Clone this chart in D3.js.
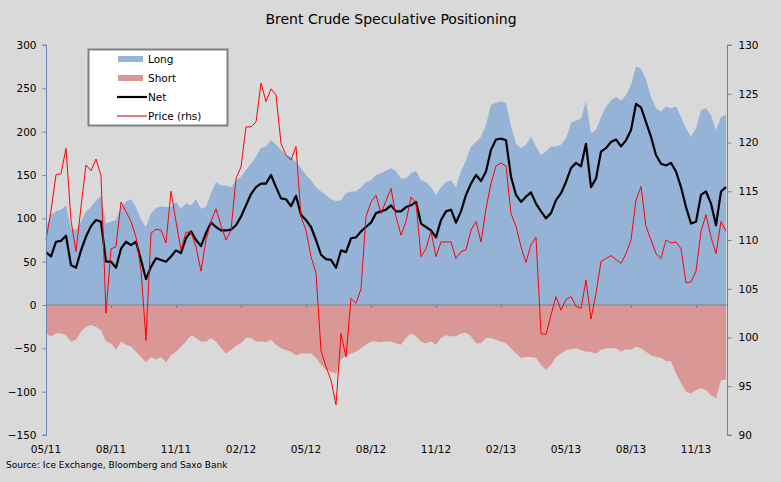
<!DOCTYPE html>
<html><head><meta charset="utf-8">
<script src="https://cdn.jsdelivr.net/npm/d3@7"></script>
<style>
html,body{margin:0;padding:0;background:#d9d9d9;}
svg{display:block;font-family:"DejaVu Sans",Verdana,sans-serif;}
</style></head>
<body>
<svg id="chart" width="781" height="482"></svg>
<script>
const title = "Brent Crude Speculative Positioning";
const source = "Source: Ice Exchange, Bloomberg and Saxo Bank";
const seriesNames = ["Long", "Short", "Net", "Price (rhs)"];
const xTickLabels = ["05/11","08/11","11/11","02/12","05/12","08/12","11/12","02/13","05/13","08/13","11/13"];
const leftTicks = [300,250,200,150,100,50,0,-50,-100,-150];
const rightTicks = [130,125,120,115,110,105,100,95,90];

const longPos = [90,104,108,110,115,88,87,96,108,113,121,126,94,96,98,113,119,122,113,98,90,106,112,
114,113,113,119,111,117,115,122,111,113,129,142,138,138,136,144,148,156,163,171,181,183,190,
185,179,173,171,165,158,150,144,136,131,127,122,120,121,129,131,131,136,142,144,150,152,155,
158,154,146,146,152,155,144,142,136,127,136,142,144,136,154,167,183,188,194,208,231,233,
235,233,206,186,181,185,194,183,173,177,183,183,185,192,210,213,215,235,198,202,217,229,236,
240,236,242,254,275,273,260,240,227,223,229,227,229,217,204,194,204,225,227,219,202,217,220];

const shortPos = [-33,-36,-33,-33,-35,-42,-40,-31,-25,-23,-25,-29,-42,-44,-52,-42,-46,-48,-54,-60,-66,-60,-63,
-60,-66,-58,-54,-48,-42,-35,-38,-42,-42,-38,-42,-50,-56,-52,-47,-44,-38,-38,-42,-42,-43,-40,
-46,-50,-52,-54,-58,-56,-56,-56,-61,-69,-75,-77,-79,-63,-58,-56,-54,-50,-46,-42,-42,-43,-42,
-42,-44,-46,-38,-33,-36,-42,-44,-42,-46,-38,-35,-36,-36,-33,-32,-36,-44,-44,-38,-38,-40,
-42,-44,-50,-56,-61,-60,-60,-61,-69,-75,-69,-60,-56,-52,-51,-50,-52,-54,-54,-56,-52,-50,-50,
-50,-54,-51,-52,-48,-50,-54,-58,-60,-61,-65,-65,-79,-90,-100,-102,-98,-96,-98,-104,-108,-87,-86];

const netPos = [61,56,73,74,80,46,43,63,79,91,98,96,50,50,43,65,73,69,73,52,30,44,54,
52,50,56,63,60,77,85,75,68,83,95,90,86,86,87,92,102,115,128,136,140,140,150,
136,123,122,114,126,104,98,90,75,58,53,52,43,63,61,77,78,85,90,95,106,108,110,
115,108,108,113,115,119,94,90,86,78,98,108,110,95,108,127,140,150,143,154,179,191,
192,190,148,127,119,125,130,117,108,100,106,121,129,142,158,164,160,186,136,146,177,181,188,
191,183,190,202,232,228,211,194,173,163,161,164,154,136,113,94,96,127,131,117,92,131,136];

const price = [110,113,116.7,116.8,119.4,112,108.8,113.4,117.7,117.1,118.3,116.6,102.5,109.1,109.3,113.9,112.9,111.9,110.3,106.9,99.7,110.7,111.1,
111.0,109.7,115.0,111.9,109.0,110.8,110.8,109.3,106.8,110.0,111.9,113.2,111.5,110.0,111.0,116.3,117.5,121.6,121.6,122.1,126.1,124.2,125.5,
124.9,119.9,118.7,118.2,119.6,112.4,111.0,108.3,106.6,98.7,97.0,95.6,93.1,100.4,98.0,104.0,103.5,105.0,112.4,113.9,114.6,112.7,114.0,
115.3,112.4,110.5,111.9,114.4,113.8,108.3,109.1,110.9,108.3,109.8,109.8,109.8,108.1,108.8,109.0,111.0,111.9,109.8,113.2,115.8,117.6,
117.9,117.6,112.7,111.4,109.3,107.7,109.5,110.3,100.4,100.3,102.3,104.2,102.8,103.9,104.2,103.2,103.0,105.9,101.9,104.5,107.8,108.1,108.4,
108.0,107.6,108.6,110.0,114.1,115.5,111.4,110.0,108.6,108.1,110.0,109.7,109.8,109.1,105.6,105.7,106.8,110.9,112.6,110.3,108.6,111.9,110.9];

const labelEvery = 13;

const svg = d3.select("#chart");
const W = 781, H = 482;
svg.append("rect").attr("width", W).attr("height", H).attr("fill", "#d9d9d9");

const plotL = 46, plotR = 727, plotT = 45, plotB = 435;
const idx = d3.range(longPos.length);
const x = d3.scaleLinear().domain([0, longPos.length - 1]).range([plotL, plotR - 1]);
const yL = d3.scaleLinear().domain([-150, 300]).range([plotB, plotT]);
const yR = d3.scaleLinear().domain([90, 130]).range([plotB, plotT]);

// areas
const areaLong = d3.area().x(i => x(i)).y0(yL(0)).y1(i => yL(longPos[i]));
const areaShort = d3.area().x(i => x(i)).y0(yL(0)).y1(i => yL(shortPos[i]));
svg.append("path").attr("d", areaLong(idx)).attr("fill", "#95b3d7");
svg.append("path").attr("d", areaShort(idx)).attr("fill", "#d99795");

// zero axis line with category ticks
svg.append("line").attr("x1", plotL).attr("x2", plotR).attr("y1", yL(0)).attr("y2", yL(0))
  .attr("stroke", "#808080").attr("stroke-width", 1);
const tickIdx = xTickLabels.map((d, k) => k * labelEvery);
svg.append("g").selectAll("line").data(tickIdx).join("line")
  .attr("x1", i => Math.round(x(i)) + 0.5).attr("x2", i => Math.round(x(i)) + 0.5)
  .attr("y1", yL(0)).attr("y2", yL(0) + 3).attr("stroke", "#808080");

// net line
const lineNet = d3.line().x(i => x(i)).y(i => yL(netPos[i]));
svg.append("path").attr("d", lineNet(idx)).attr("fill", "none").attr("stroke", "#000")
  .attr("stroke-width", 2.2).attr("stroke-linejoin", "round");

// price line
const linePrice = d3.line().x(i => x(i)).y(i => yR(price[i]));
svg.append("path").attr("d", linePrice(idx)).attr("fill", "none").attr("stroke", "#ff0000")
  .attr("stroke-width", 1);

// left axis
const axL = d3.axisLeft(yL).tickValues(leftTicks).tickSize(4).tickPadding(6);
const gL = svg.append("g").attr("transform", `translate(${plotL + 0.5},0)`).call(axL);
gL.select(".domain").attr("stroke", "#6688bb").attr("d", `M-4,${plotT}H0V${plotB}H-4`);
gL.selectAll(".tick line").attr("stroke", "#6688bb");
gL.selectAll("text").attr("font-size", 10.5).attr("fill", "#000").attr("font-family", "DejaVu Sans");

// right axis
const axR = d3.axisRight(yR).tickValues(rightTicks).tickSize(4).tickPadding(7);
const gR = svg.append("g").attr("transform", `translate(${plotR + 0.5},0)`).call(axR);
gR.select(".domain").attr("stroke", "#808080").attr("d", `M4,${plotT}H0V${plotB}H4`);
gR.selectAll(".tick line").attr("stroke", "#808080");
gR.selectAll("text").attr("font-size", 10.5).attr("fill", "#000").attr("font-family", "DejaVu Sans");

// x labels
svg.append("g").selectAll("text").data(xTickLabels).join("text")
  .attr("x", (d, k) => x(k * labelEvery)).attr("y", 453)
  .attr("text-anchor", "middle").attr("font-size", 10.5).attr("fill", "#000").text(d => d);

// title
svg.append("text").attr("x", 391).attr("y", 24).attr("text-anchor", "middle")
  .attr("font-size", 14).attr("fill", "#000").text(title);

// source
svg.append("text").attr("x", 6).attr("y", 468).attr("font-size", 9).attr("fill", "#000").text(source);

// legend
const lg = svg.append("g");
lg.append("rect").attr("x", 88.5).attr("y", 49.5).attr("width", 139).attr("height", 76)
  .attr("fill", "#fff").attr("stroke", "#808080").attr("stroke-width", 2);
const rowsY = [59, 78, 97, 116];
// Long swatch
lg.append("rect").attr("x", 118).attr("y", rowsY[0] - 3).attr("width", 25).attr("height", 6).attr("fill", "#95b3d7");
lg.append("rect").attr("x", 118).attr("y", rowsY[1] - 3).attr("width", 25).attr("height", 6).attr("fill", "#d99795");
lg.append("line").attr("x1", 117).attr("x2", 147).attr("y1", rowsY[2]).attr("y2", rowsY[2]).attr("stroke", "#000").attr("stroke-width", 2.2);
lg.append("line").attr("x1", 117).attr("x2", 147).attr("y1", rowsY[3]).attr("y2", rowsY[3]).attr("stroke", "#c00000").attr("stroke-width", 1);
lg.selectAll("text.lbl").data(seriesNames).join("text").attr("class", "lbl")
  .attr("x", 148).attr("y", (d, k) => rowsY[k] + 4).attr("font-size", 10.5).attr("fill", "#000").text(d => d);
</script>
</body></html>
